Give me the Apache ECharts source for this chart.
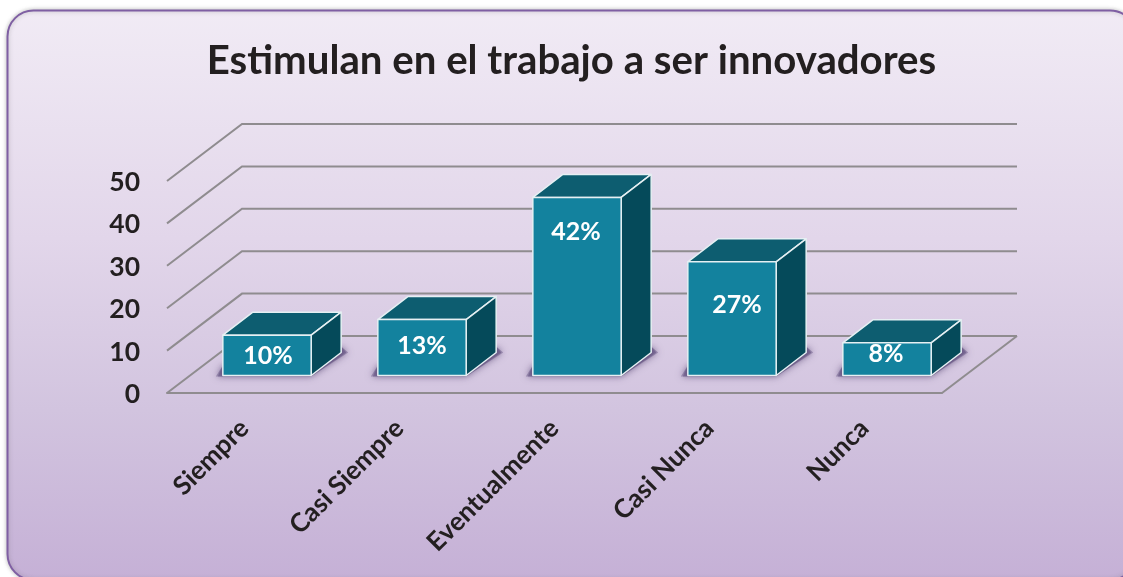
<!DOCTYPE html>
<html>
<head>
<meta charset="utf-8">
<style>
  html, body { margin: 0; padding: 0; background: #fff; }
  #main { width: 1123px; height: 577px; }
</style>
<script src="https://cdn.jsdelivr.net/npm/echarts@6/dist/echarts.min.js"></script>
</head>
<body>
<div id="main"></div>
<script>
const titleText = "Estimulan en el trabajo a ser innovadores";
const categories = ["Siempre", "Casi Siempre", "Eventualmente", "Casi Nunca", "Nunca"];
const barValues = [9.5, 13.2, 42, 26.8, 7.7];
const barLabels = ["10%", "13%", "42%", "27%", "8%"];
const yTicks = [0, 10, 20, 30, 40, 50];

// how far the label centre sits below the bar top / off the bar centre
const labelDrop = [20.5, 26, 35, 43.5, 11.5];
const labelShift = [1, 0, -1, 5, -1];

const FONT = "Lato";
const INK = "#231f20";
const LINE = "#8f8c8f";
// depth of the whole floor, and of a bar
const WALL_DX = 75, WALL_DY = -57;
const BAR_DX = 30, BAR_DY = -23;
const BAR_OFF_X = 22.5, BAR_OFF_Y = -17.5;

// side wall and back wall lines
function renderWall(params, api) {
  const cs = params.coordSys;
  const y = api.coord([0, api.value(0)])[1];
  const x0 = cs.x, x1 = cs.x + cs.width;
  const children = [{
    type: "polyline",
    shape: { points: [[x0, y], [x0 + WALL_DX, y + WALL_DY], [x1 + WALL_DX, y + WALL_DY]] },
    style: { fill: null, stroke: LINE, lineWidth: 2 }
  }];
  if (api.value(0) === 0) {
    children.push({
      type: "line",
      shape: { x1: x1, y1: y, x2: x1 + WALL_DX, y2: y + WALL_DY },
      style: { stroke: LINE, lineWidth: 2 }
    });
  }
  return { type: "group", children: children };
}

function renderBar(params, api) {
  const i = api.value(0);
  const v = api.value(1);
  const top = api.coord([i, v]);
  const base = api.coord([i, 0]);
  const w = api.size([1, 0])[0] * 0.57;
  const l = top[0] + BAR_OFF_X - w / 2;
  const r = l + w;
  const t = top[1] + BAR_OFF_Y;
  const b = base[1] + BAR_OFF_Y;
  const edge = { stroke: "#e6f0f3", lineWidth: 1.5, lineJoin: "round" };
  return {
    type: "group",
    children: [
      // soft floor shadow, drawn twice so the blur stacks up near the bar
      {
        type: "polygon",
        shape: { points: [[l - 7, b + 1], [r, b + 1], [r + BAR_DX + 7, b + BAR_DY], [r + BAR_DX, b + BAR_DY - 6], [r, b - 10], [l, b - 10]] },
        style: { fill: "rgba(88,70,120,0.4)", shadowBlur: 9, shadowColor: "rgba(70,52,100,1)" }
      },
      {
        type: "polygon",
        shape: { points: [[l - 5, b + 1], [r, b + 1], [r + BAR_DX + 5, b + BAR_DY], [r + BAR_DX, b + BAR_DY - 6], [r, b - 10], [l, b - 10]] },
        style: { fill: "rgba(88,70,120,0.4)", shadowBlur: 5, shadowColor: "rgba(70,52,100,0.8)" }
      },
      {
        type: "polygon",
        shape: { points: [[l, t], [l + BAR_DX, t + BAR_DY], [r + BAR_DX, t + BAR_DY], [r, t]] },
        style: Object.assign({ fill: "#0d5d70" }, edge)
      },
      {
        type: "polygon",
        shape: { points: [[r, t], [r + BAR_DX, t + BAR_DY], [r + BAR_DX, b + BAR_DY], [r, b]] },
        style: Object.assign({ fill: "#054a5a" }, edge)
      },
      {
        type: "rect",
        shape: { x: l, y: t, width: w, height: b - t },
        style: Object.assign({ fill: "#13829e" }, edge)
      },
      {
        type: "text",
        style: {
          x: (l + r) / 2 + labelShift[i],
          y: t + labelDrop[i],
          text: barLabels[i],
          fill: "#fff",
          font: "bold 25px " + FONT,
          textAlign: "center",
          textVerticalAlign: "middle"
        }
      }
    ]
  };
}

const myChart = echarts.init(document.getElementById("main"));

const option = {
  animation: false,
  title: {
    text: titleText,
    left: 566.5,
    top: 36,
    textAlign: "center",
    textStyle: { fontFamily: FONT, fontWeight: "bold", fontSize: 40.2, color: INK }
  },
  graphic: [{
    type: "rect",
    z: -1,
    shape: { x: 7.5, y: 10.5, width: 1128.5, height: 569.5, r: 26 },
    style: {
      fill: new echarts.graphic.LinearGradient(0, 0, 0, 1, [
        { offset: 0, color: "#f1ebf5" },
        { offset: 0.4, color: "#e2d6ea" },
        { offset: 0.7, color: "#d2c4df" },
        { offset: 1, color: "#c5b0d6" }
      ]),
      stroke: "#7f5fa3",
      lineWidth: 2,
      shadowBlur: 4,
      shadowColor: "rgba(80,80,80,0.35)"
    }
  }],
  grid: { left: 167, right: 181, top: 181, bottom: 184, containLabel: false },
  xAxis: {
    type: "category",
    data: categories,
    axisTick: { show: false },
    axisLine: { lineStyle: { color: LINE, width: 2 } },
    axisLabel: {
      rotate: 45,
      interval: 0,
      margin: 31,
      fontFamily: FONT,
      fontWeight: "bold",
      fontSize: 26,
      color: INK
    }
  },
  yAxis: {
    type: "value",
    min: 0,
    max: 50,
    interval: 10,
    splitLine: { show: false },
    axisLine: { show: false },
    axisTick: { show: false },
    axisLabel: {
      margin: 27,
      verticalAlign: "top",
      lineHeight: 3,
      fontFamily: FONT,
      fontWeight: "bold",
      fontSize: 26.5,
      color: INK
    }
  },
  series: [
    {
      type: "custom",
      z: 1,
      clip: false,
      silent: true,
      renderItem: renderWall,
      data: yTicks.map(v => [v]),
      encode: { y: 0 }
    },
    {
      type: "custom",
      z: 2,
      clip: false,
      renderItem: renderBar,
      data: barValues.map((v, i) => [i, v]),
      encode: { x: 0, y: 1 }
    }
  ]
};

option && myChart.setOption(option);
</script>
</body>
</html>
